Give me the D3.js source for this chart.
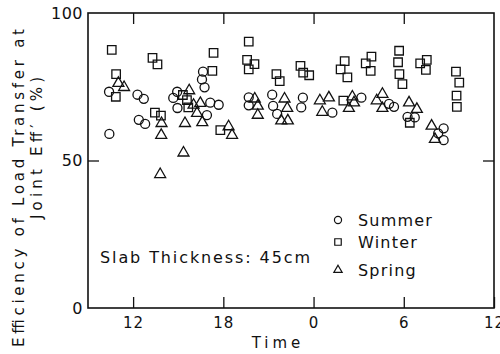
<!DOCTYPE html>
<html>
<head>
<meta charset="utf-8">
<script src="https://cdn.jsdelivr.net/npm/d3@7"></script>
<style>
  body { margin: 0; background: #fff; }
  text { font-family: 'DejaVu Sans', sans-serif; fill: #111; }
</style>
</head>
<body>
<svg id="chart" width="500" height="354"></svg>
<script>
// time in hours from midnight of day 1 (24 = 0h next day)
const summerTime = [10.42, 10.4, 12.29, 12.71, 12.38, 12.8, 14.93, 14.67, 14.95, 16.91, 16.65, 16.58, 16.75, 17.13, 17.69,
  19.69, 19.69, 21.25, 21.31, 21.58, 23.29, 23.18, 25.25, 27.18, 29.02, 29.35, 30.25, 30.73, 32.65, 32.29, 32.65];
const summerEff = [59.0, 73.3, 72.3, 70.9, 63.8, 62.4, 73.3, 71.2, 67.8, 65.4, 80.1, 77.5, 74.8, 69.6, 68.9,
  71.4, 68.7, 72.3, 68.5, 65.8, 71.3, 68.0, 66.2, 71.3, 69.2, 68.2, 64.8, 64.6, 60.9, 59.2, 56.9];

const winterTime = [10.58, 10.87, 10.85, 13.29, 13.62, 13.45, 13.85, 15.31, 15.58, 15.67, 17.35, 17.27, 17.8, 19.69, 19.58,
  20.07, 19.69, 21.53, 21.75, 23.13, 23.31, 23.71, 26.07, 25.8, 26.25, 25.98, 27.85, 27.47, 27.8, 29.69, 29.62, 29.71,
  29.91, 30.4, 31.09, 31.53, 31.47, 33.47, 33.69, 33.51, 33.53];
const winterEff = [87.5, 79.3, 71.6, 84.8, 82.6, 66.2, 65.2, 72.2, 70.5, 68.0, 86.5, 80.4, 60.3, 90.3, 84.1,
  82.7, 80.9, 79.3, 76.9, 82.1, 79.8, 78.9, 83.7, 80.9, 78.2, 70.3, 85.2, 82.9, 80.4, 87.2, 83.3, 79.3,
  75.9, 62.8, 82.9, 84.1, 80.7, 80.1, 76.4, 72.0, 68.2];

const springTime = [11.02, 11.4, 13.89, 13.87, 13.8, 15.35, 15.45, 15.73, 16.02, 16.47, 16.25, 16.6, 18.35, 18.58, 20.09,
  20.29, 20.29, 22.07, 22.25, 21.85, 22.29, 24.42, 25.02, 24.58, 26.58, 26.69, 26.35, 28.58, 28.2, 28.58, 30.35, 30.87,
  31.85, 32.07];
const springEff = [76.2, 74.8, 62.6, 58.6, 45.3, 52.6, 62.6, 73.7, 68.8, 69.4, 66.0, 62.9, 61.5, 58.6, 70.9,
  68.5, 65.4, 70.9, 67.7, 63.5, 63.5, 70.3, 71.3, 66.4, 71.6, 69.6, 67.7, 72.5, 70.3, 67.7, 69.6, 67.4,
  61.7, 57.2];

const xTicks = [12, 18, 24, 30, 36];
const yTicks = [0, 50, 100];

const series = [
  {name: 'Summer', time: summerTime, eff: summerEff, type: d3.symbolCircle},
  {name: 'Winter', time: winterTime, eff: winterEff, type: d3.symbolSquare},
  {name: 'Spring', time: springTime, eff: springEff, type: d3.symbolTriangle}
];

const margin = {top: 13, right: 6, bottom: 46, left: 88};
const width = 500 - margin.left - margin.right;
const height = 354 - margin.top - margin.bottom;

const svg = d3.select('#chart');
const g = svg.append('g')
  .attr('transform', `translate(${margin.left},${margin.top})`);

const x = d3.scaleLinear().domain([9, 36]).range([0, width]);
const y = d3.scaleLinear().domain([0, 100]).range([height, 0]);

const tickLen = 11;

// bottom axis, ticks pointing in
g.append('g')
  .attr('transform', `translate(0,${height})`)
  .call(d3.axisBottom(x).tickValues(xTicks).tickSizeInner(-tickLen).tickSizeOuter(0)
    .tickPadding(9).tickFormat(d => d % 24))
  .call(a => a.select('.domain').remove())
  .selectAll('text')
  .style('font-size', '15px')
  .style('letter-spacing', '1px');

g.append('g')
  .call(d3.axisTop(x).tickValues(xTicks.slice(0, 4)).tickSizeInner(-tickLen).tickSizeOuter(0).tickFormat(''))
  .call(a => a.select('.domain').remove());

g.append('g')
  .call(d3.axisLeft(y).tickValues(yTicks).tickSizeInner(-tickLen).tickSizeOuter(0).tickPadding(5))
  .call(a => a.select('.domain').remove())
  .call(a => a.selectAll('line').attr('stroke-opacity', d => d === 50 ? 1 : 0))
  .selectAll('text')
  .style('font-size', '16px')
  .style('letter-spacing', '0.5px');

g.append('g')
  .attr('transform', `translate(${width},0)`)
  .call(d3.axisRight(y).tickValues([50]).tickSizeInner(-tickLen).tickSizeOuter(0).tickFormat(''))
  .call(a => a.select('.domain').remove());

g.selectAll('.tick line').attr('stroke', '#111').attr('stroke-width', 1.3);

// frame
g.append('rect')
  .attr('width', width)
  .attr('height', height)
  .attr('fill', 'none')
  .attr('stroke', '#111')
  .attr('stroke-width', 1.6);

const symSize = {Summer: 64, Winter: 72, Spring: 52};
const legendSize = {Summer: 40, Winter: 42, Spring: 30};

series.forEach(s => {
  const sym = d3.symbol().type(s.type).size(symSize[s.name]);
  g.append('g')
    .selectAll('path')
    .data(s.time.map((t, i) => [t, s.eff[i]]))
    .enter().append('path')
    .attr('d', sym)
    .attr('transform', d => `translate(${x(d[0])},${y(d[1])})`)
    .attr('fill', 'none')
    .attr('stroke', '#111')
    .attr('stroke-width', 1.3);
});

// legend
const legendY = [220, 242, 270];
series.forEach((s, i) => {
  svg.append('path')
    .attr('d', d3.symbol().type(s.type).size(legendSize[s.name])())
    .attr('transform', `translate(338,${legendY[i]})`)
    .attr('fill', 'none')
    .attr('stroke', '#111')
    .attr('stroke-width', 1.2);
  svg.append('text')
    .attr('x', 358)
    .attr('y', legendY[i] + 6)
    .style('font-size', '16px')
    .style('letter-spacing', '1.2px')
    .text(s.name);
});

svg.append('text')
  .attr('x', 100)
  .attr('y', 263)
  .attr('textLength', 210)
  .attr('lengthAdjust', 'spacing')
  .style('font-size', '16px')
  .text('Slab Thickness: 45cm');

svg.append('text')
  .attr('x', 278)
  .attr('y', 348)
  .attr('text-anchor', 'middle')
  .style('font-size', '15px')
  .style('letter-spacing', '4px')
  .text('Time');

svg.append('text')
  .attr('transform', 'translate(24,188) rotate(-90)')
  .attr('text-anchor', 'middle')
  .attr('textLength', 318)
  .attr('lengthAdjust', 'spacing')
  .style('font-size', '15px')
  .text('Efficiency of Load Transfer at');

svg.append('text')
  .attr('transform', 'translate(42,148) rotate(-90)')
  .attr('text-anchor', 'middle')
  .attr('textLength', 142)
  .attr('lengthAdjust', 'spacing')
  .style('font-size', '15px')
  .text('Joint  Eff\u2032 (%)');
</script>
</body>
</html>
